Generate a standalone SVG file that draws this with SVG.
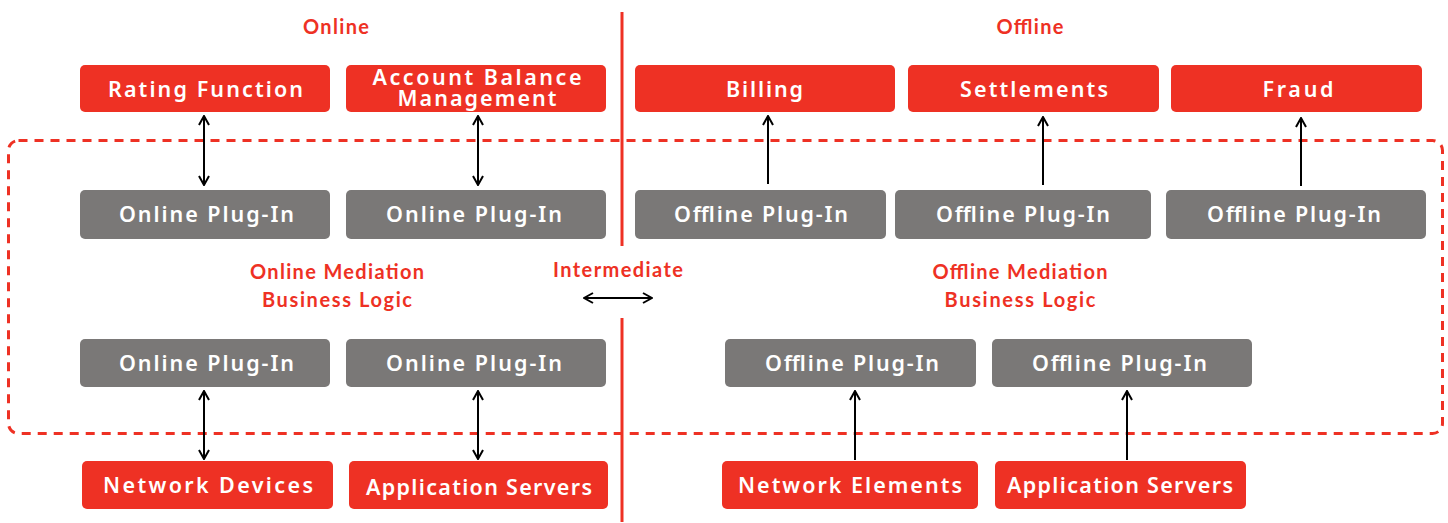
<svg xmlns="http://www.w3.org/2000/svg" width="1448" height="523" viewBox="0 0 1448 523">
  <style>
    .red { fill: #EE3124; }
    .gray { fill: #7A7877; }
    .box-text { font-family: "Noto Sans", "Open Sans", sans-serif; font-weight: 600; font-size: 21.5px; fill: #ffffff; text-anchor: middle; }
    .title { font-family: Lato, "Open Sans", sans-serif; font-weight: 700; font-size: 20px; fill: #EE3124; text-anchor: middle; }
    .divider { stroke: #EE3124; stroke-width: 3; fill: none; }
    .boundary { stroke: #EE3124; stroke-width: 3; stroke-dasharray: 9 7; fill: none; }
    .conn { stroke: #000000; stroke-width: 2; fill: none; }
  </style>
  <defs>
    <marker id="chev" viewBox="0 0 12 12" refX="11" refY="6" markerWidth="12" markerHeight="12" markerUnits="userSpaceOnUse" orient="auto-start-reverse">
      <path d="M2,1 L11,6 L2,11" fill="none" stroke="#000" stroke-width="2"/>
    </marker>
  </defs>

  <rect width="1448" height="523" fill="#ffffff"/>

  <!-- section titles -->
  <text class="title" x="336" y="34" textLength="66" lengthAdjust="spacing">Online</text>
  <text class="title" x="1030" y="34" textLength="67" lengthAdjust="spacing">Offline</text>

  <!-- online / offline divider -->
  <line class="divider" x1="622" y1="12" x2="622" y2="246"/>
  <line class="divider" x1="622" y1="318" x2="622" y2="522"/>

  <!-- mediation boundary -->
  <rect class="boundary" x="8.5" y="140.5" width="1434" height="293" rx="10"/>

  <!-- labels inside the boundary -->
  <g id="online-mediation">
    <text class="title" x="337" y="279" textLength="174" lengthAdjust="spacing">Online Mediation</text>
    <text class="title" x="337" y="307" textLength="150" lengthAdjust="spacing">Business Logic</text>
  </g>
  <g id="offline-mediation">
    <text class="title" x="1020" y="279" textLength="175" lengthAdjust="spacing">Offline Mediation</text>
    <text class="title" x="1020" y="307" textLength="151" lengthAdjust="spacing">Business Logic</text>
  </g>
  <g id="intermediate">
    <text class="title" x="618" y="277" textLength="130" lengthAdjust="spacing">Intermediate</text>
  </g>

  <!-- top row: online functions -->
  <g id="rating-function">
    <rect class="red" x="80" y="65" width="250" height="47" rx="5"/>
    <text class="box-text" x="205.5" y="97" textLength="195" lengthAdjust="spacing">Rating Function</text>
  </g>
  <g id="account-balance">
    <rect class="red" x="346" y="65" width="260" height="47" rx="5"/>
    <text class="box-text"><tspan x="477" y="85" textLength="209" lengthAdjust="spacing">Account Balance</tspan><tspan x="477" y="106" textLength="159" lengthAdjust="spacing">Management</tspan></text>
  </g>

  <!-- top row: offline functions -->
  <g id="billing">
    <rect class="red" x="635" y="65" width="260" height="47" rx="5"/>
    <text class="box-text" x="764.5" y="97" textLength="77" lengthAdjust="spacing">Billing</text>
  </g>
  <g id="settlements">
    <rect class="red" x="908" y="65" width="251" height="47" rx="5"/>
    <text class="box-text" x="1034" y="97" textLength="148" lengthAdjust="spacing">Settlements</text>
  </g>
  <g id="fraud">
    <rect class="red" x="1171" y="65" width="251" height="47" rx="5"/>
    <text class="box-text" x="1298" y="97" textLength="71" lengthAdjust="spacing">Fraud</text>
  </g>

  <!-- upper plug-ins -->
  <g id="online-plugin-1">
    <rect class="gray" x="80" y="190" width="250" height="49" rx="5"/>
    <text class="box-text" x="206.5" y="222" textLength="175" lengthAdjust="spacing">Online Plug-In</text>
  </g>
  <g id="online-plugin-2">
    <rect class="gray" x="346" y="190" width="260" height="49" rx="5"/>
    <text class="box-text" x="474" y="222" textLength="176" lengthAdjust="spacing">Online Plug-In</text>
  </g>
  <g id="offline-plugin-1">
    <rect class="gray" x="635" y="190" width="251" height="49" rx="5"/>
    <text class="box-text" x="761" y="222" textLength="174" lengthAdjust="spacing">Offline Plug-In</text>
  </g>
  <g id="offline-plugin-2">
    <rect class="gray" x="895" y="190" width="256" height="49" rx="5"/>
    <text class="box-text" x="1023" y="222" textLength="174" lengthAdjust="spacing">Offline Plug-In</text>
  </g>
  <g id="offline-plugin-3">
    <rect class="gray" x="1166" y="190" width="260" height="49" rx="5"/>
    <text class="box-text" x="1294" y="222" textLength="174" lengthAdjust="spacing">Offline Plug-In</text>
  </g>

  <!-- lower plug-ins -->
  <g id="online-plugin-3">
    <rect class="gray" x="80" y="339" width="250" height="48" rx="5"/>
    <text class="box-text" x="206.5" y="371" textLength="175" lengthAdjust="spacing">Online Plug-In</text>
  </g>
  <g id="online-plugin-4">
    <rect class="gray" x="346" y="339" width="260" height="48" rx="5"/>
    <text class="box-text" x="474" y="371" textLength="176" lengthAdjust="spacing">Online Plug-In</text>
  </g>
  <g id="offline-plugin-4">
    <rect class="gray" x="725" y="339" width="251" height="48" rx="5"/>
    <text class="box-text" x="852" y="371" textLength="174" lengthAdjust="spacing">Offline Plug-In</text>
  </g>
  <g id="offline-plugin-5">
    <rect class="gray" x="992" y="339" width="260" height="48" rx="5"/>
    <text class="box-text" x="1119.5" y="371" textLength="175" lengthAdjust="spacing">Offline Plug-In</text>
  </g>

  <!-- bottom row: sources -->
  <g id="network-devices">
    <rect class="red" x="82" y="461" width="251" height="48" rx="5"/>
    <text class="box-text" x="208" y="493" textLength="210" lengthAdjust="spacing">Network Devices</text>
  </g>
  <g id="app-servers-online">
    <rect class="red" x="349" y="461" width="259" height="48" rx="5"/>
    <text class="box-text" x="479" y="495" textLength="226" lengthAdjust="spacing">Application Servers</text>
  </g>
  <g id="network-elements">
    <rect class="red" x="722" y="461" width="256" height="48" rx="5"/>
    <text class="box-text" x="850" y="493" textLength="224" lengthAdjust="spacing">Network Elements</text>
  </g>
  <g id="app-servers-offline">
    <rect class="red" x="995" y="461" width="251" height="48" rx="5"/>
    <text class="box-text" x="1120" y="493" textLength="226" lengthAdjust="spacing">Application Servers</text>
  </g>

  <!-- connectors -->
  <g id="connectors">
    <line class="conn" x1="204" y1="116" x2="204" y2="185" marker-start="url(#chev)" marker-end="url(#chev)"/>
    <line class="conn" x1="478" y1="116" x2="478" y2="185" marker-start="url(#chev)" marker-end="url(#chev)"/>
    <line class="conn" x1="768" y1="184" x2="768" y2="116" marker-end="url(#chev)"/>
    <line class="conn" x1="1043" y1="185" x2="1043" y2="117" marker-end="url(#chev)"/>
    <line class="conn" x1="1301" y1="186" x2="1301" y2="118" marker-end="url(#chev)"/>
    <line class="conn" x1="584" y1="298" x2="652" y2="298" marker-start="url(#chev)" marker-end="url(#chev)"/>
    <line class="conn" x1="204" y1="391" x2="204" y2="459" marker-start="url(#chev)" marker-end="url(#chev)"/>
    <line class="conn" x1="478" y1="391" x2="478" y2="459" marker-start="url(#chev)" marker-end="url(#chev)"/>
    <line class="conn" x1="855" y1="460" x2="855" y2="391" marker-end="url(#chev)"/>
    <line class="conn" x1="1127" y1="460" x2="1127" y2="391" marker-end="url(#chev)"/>
  </g>
</svg>
